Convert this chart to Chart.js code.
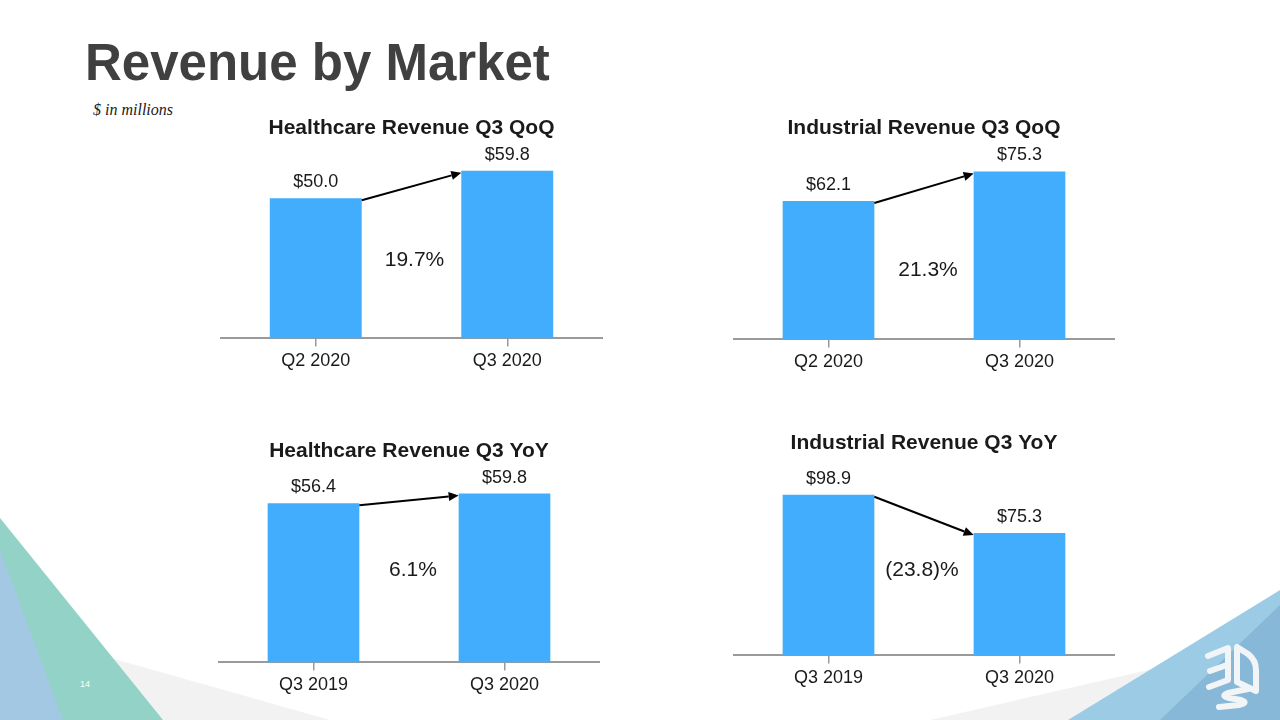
<!DOCTYPE html>
<html>
<head>
<meta charset="utf-8">
<script src="https://cdn.jsdelivr.net/npm/chart.js@4.4.1/dist/chart.umd.min.js"></script>
<style>
  html, body { margin: 0; padding: 0; background: #fff; }
  body { width: 1280px; height: 720px; position: relative; overflow: hidden; font-family: "Liberation Sans", Arial, sans-serif; }
  #bg { position: absolute; left: 0; top: 0; }
  .box { position: absolute; }
  #title { position: absolute; left: 85px; top: 37px; font-size: 51px; line-height: 1; font-weight: bold; color: #404040; }
  #unit { position: absolute; left: 93px; top: 102px; font: italic 16px "Liberation Serif", "Times New Roman", serif; line-height: 1; color: #1a1a1a; }
  #page { position: absolute; left: 80px; top: 679px; font-size: 9px; color: #fff; }
</style>
</head>
<body>
<svg id="bg" width="1280" height="720">
  <polygon points="100,655 330,720 100,720" fill="#f2f2f2"/>
  <polygon points="930,720 1280,640 1280,720" fill="#f2f2f2"/>
  <polygon points="0,518 163,720 0,720" fill="#93d3c7"/>
  <polygon points="0,550 63,720 0,720" fill="#a2c8e3"/>
  <polygon points="1068,720 1280,590 1280,720" fill="#9ccbe6"/>
  <polygon points="1160,720 1280,605 1280,720" fill="#88b8d8"/>
  <!-- rough 3D Systems cube logo -->
  <g fill="none" stroke="#f2f5f8" stroke-width="6" stroke-linecap="round" stroke-linejoin="round">
    <path d="M1208,656 L1228,648 L1228,680 L1209,687"/>
    <path d="M1210,671 L1227,665"/>
    <path d="M1237,647 L1237,682 L1256,691 L1256,670 Q1256,660 1248,654 Z"/>
    <path d="M1248,689 L1228,693 Q1220,696 1229,698 L1241,700 Q1249,703 1239,705 L1219,707"/>
  </g>
</svg>
<div id="title">Revenue by Market</div>
<div id="unit">$ in millions</div>
<div id="page">14</div>

<div class="box" style="left:220px;top:108px"><canvas id="c1" width="383" height="268"></canvas></div>
<div class="box" style="left:733px;top:108px"><canvas id="c2" width="382" height="269"></canvas></div>
<div class="box" style="left:218px;top:431px"><canvas id="c3" width="382" height="269"></canvas></div>
<div class="box" style="left:733px;top:423px"><canvas id="c4" width="382" height="270"></canvas></div>

<script>
// data
const qoqLabels = ['Q2 2020', 'Q3 2020'];
const yoyLabels = ['Q3 2019', 'Q3 2020'];
const healthcareQoq = [50.0, 59.8];
const industrialQoq = [62.1, 75.3];
const healthcareYoy = [56.4, 59.8];
const industrialYoy = [98.9, 75.3];
const changeLabels = ['19.7%', '21.3%', '6.1%', '(23.8)%'];
const chartTitles = [
    'Healthcare Revenue Q3 QoQ',
    'Industrial Revenue Q3 QoQ',
    'Healthcare Revenue Q3 YoY',
    'Industrial Revenue Q3 YoY'
];

const FONT = '"Liberation Sans", Arial, sans-serif';
const BAR_COLOR = '#42acfd';
const TEXT_COLOR = '#1a1a1a';

// value labels, growth arrow, change %
const notesPlugin = {
    id: 'notes',
    afterDatasetsDraw(chart, args, opts) {
        const ctx = chart.ctx;
        const bars = chart.getDatasetMeta(0).data;
        const values = chart.data.datasets[0].data;
        ctx.save();
        ctx.fillStyle = TEXT_COLOR;
        ctx.textAlign = 'center';
        ctx.textBaseline = 'middle';
        ctx.font = '18px ' + FONT;
        bars.forEach((bar, i) => {
            ctx.fillText('$' + values[i].toFixed(1), bar.x, bar.y - 16);
        });

        const a = bars[0], b = bars[1];
        const x0 = a.x + a.width / 2, y0 = a.y + 2;
        const x1 = b.x - b.width / 2, y1 = b.y + 2;
        const ang = Math.atan2(y1 - y0, x1 - x0);
        const head = 10, half = 4.5;
        const bx = x1 - head * Math.cos(ang), by = y1 - head * Math.sin(ang);
        ctx.strokeStyle = '#000';
        ctx.fillStyle = '#000';
        ctx.lineWidth = 2;
        ctx.beginPath();
        ctx.moveTo(x0, y0);
        ctx.lineTo(bx, by);
        ctx.stroke();
        ctx.beginPath();
        ctx.moveTo(x1, y1);
        ctx.lineTo(bx + half * Math.sin(ang), by - half * Math.cos(ang));
        ctx.lineTo(bx - half * Math.sin(ang), by + half * Math.cos(ang));
        ctx.closePath();
        ctx.fill();

        ctx.fillStyle = TEXT_COLOR;
        ctx.font = '21px ' + FONT;
        ctx.fillText(opts.text, (a.x + b.x) / 2 + opts.dx, chart.chartArea.bottom - opts.rise);
        ctx.restore();
    }
};

function makeChart(id, title, labels, values, change, yMax, rise, dx) {
    new Chart(document.getElementById(id), {
        type: 'bar',
        data: {
            labels: labels,
            datasets: [{ data: values, backgroundColor: BAR_COLOR, barPercentage: 0.48, categoryPercentage: 1 }]
        },
        options: {
            responsive: false,
            animation: false,
            layout: { padding: 0 },
            plugins: {
                legend: { display: false },
                tooltip: { enabled: false },
                title: {
                    display: true, text: title, color: TEXT_COLOR,
                    font: { family: FONT, size: 21, weight: 'bold' },
                    padding: { top: 8, bottom: 4 }
                },
                notes: { text: change, rise: rise, dx: dx }
            },
            scales: {
                x: {
                    grid: { display: true, drawOnChartArea: false, drawTicks: true, tickLength: 8, offset: false, color: '#9a9a9a', lineWidth: 1.5 },
                    border: { display: true, color: '#9a9a9a', width: 2 },
                    ticks: { color: TEXT_COLOR, font: { family: FONT, size: 18 }, padding: 4 }
                },
                y: { display: false, min: 0, max: yMax }
            }
        },
        plugins: [notesPlugin]
    });
}

makeChart('c1', chartTitles[0], qoqLabels, healthcareQoq, changeLabels[0], 68.9, 78, 3);
makeChart('c2', chartTitles[1], qoqLabels, industrialQoq, changeLabels[1], 87.1, 69, 4);
makeChart('c3', chartTitles[2], yoyLabels, healthcareYoy, changeLabels[2], 68.8, 92, 4);
makeChart('c4', chartTitles[3], yoyLabels, industrialYoy, changeLabels[3], 120.2, 85, -2);
</script>
</body>
</html>
